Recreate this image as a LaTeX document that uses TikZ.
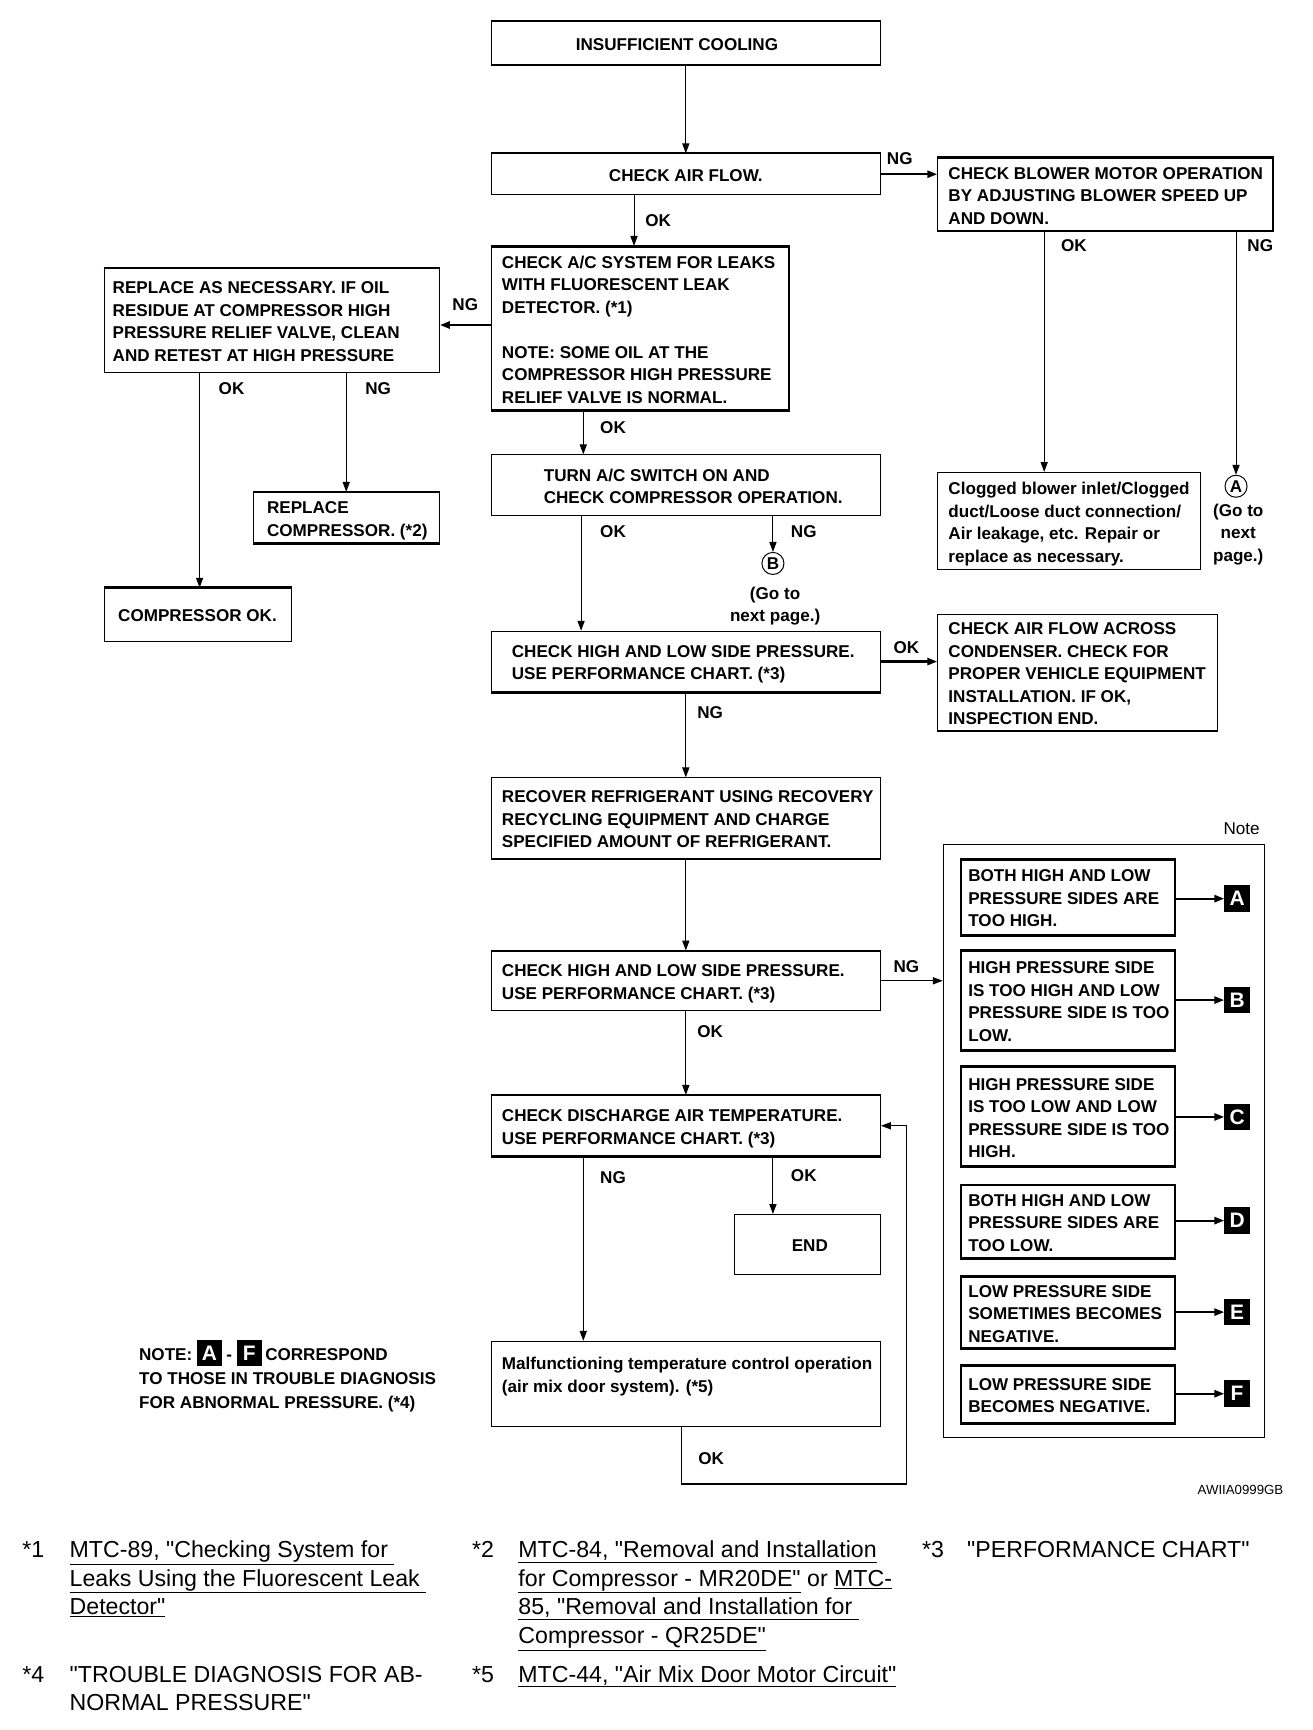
\documentclass[tikz,border=0pt]{standalone}
\usepackage{fontspec}
\setmainfont{Liberation Sans}[Ligatures=TeXOff]
\usetikzlibrary{arrows.meta,calc}
\newcommand\blk[1]{{\setlength{\fboxsep}{0pt}\colorbox{black}{\makebox[23pt]{\rule[-5pt]{0pt}{23pt}\textcolor{white}{\fontsize{19}{19}\bfseries #1}}}}}
\newcommand\mystrut{\rule[-4pt]{0pt}{15pt}}
\newcommand\tk[1]{\draw[line width=2.2pt] (#1.north west) -- (#1.north east);}
\newcommand\bk[1]{\draw[line width=2.2pt] (#1.south west) -- (#1.south east);}
\begin{document}
\begin{tikzpicture}[x=1pt,y=-1pt,
  box/.style={draw, line width=1pt, inner sep=0pt, anchor=north west},
  ibox/.style={box, line width=1.6pt},
  txt/.style={align=left, inner sep=0pt, anchor=west, yshift=-3pt, font=\fontsize{15.5}{20.4}\bfseries, execute at begin node=\mystrut, execute at end node=\mystrut},
  ctxt/.style={txt, align=center, anchor=center},
  lab/.style={inner sep=0pt, font=\fontsize{15.5}{18}\bfseries},
  fn/.style={inner sep=0pt, anchor=base west, font=\fontsize{21}{26}\selectfont},
  arr/.style={-{Triangle[length=9pt,width=6.5pt]}, line width=0.9pt},
  tarr/.style={arr, line width=2pt},
  key/.style={fill=black, text=white, inner sep=0pt, minimum width=23pt, minimum height=24pt, font=\fontsize{19}{19}\bfseries},
  circ/.style={circle, draw, line width=0.9pt, minimum size=20pt, inner sep=0pt, font=\fontsize{15.5}{18}\bfseries}
]
\useasboundingbox (0,0) rectangle (1190,1569);

% boxes
\node[box, minimum width=353pt, minimum height=39pt] (ins) at (445,19) {};
\node[box, minimum width=353pt, minimum height=37pt] (flow) at (445,139) {};
\node[box, minimum width=304pt, minimum height=66pt] (blow) at (850,143) {};
\node[box, line width=1.5pt, minimum width=270pt, minimum height=148pt] (acs) at (445,223) {};
\node[box, minimum width=304pt, minimum height=94pt] (rep) at (94,243) {};
\node[box, minimum width=353pt, minimum height=55pt] (turn) at (445,412) {};
\node[box, minimum width=169pt, minimum height=46pt] (rcomp) at (229,446) {};
\node[box, minimum width=170pt, minimum height=48pt] (cok) at (94,533) {};
\node[box, minimum width=238pt, minimum height=88pt] (clog) at (850,428) {};
\node[box, minimum width=353pt, minimum height=55pt] (high1) at (445,572) {};
\node[box, minimum width=254pt, minimum height=105pt] (across) at (850,557) {};
\node[box, minimum width=353pt, minimum height=73pt] (recov) at (445,705) {};
\node[box, minimum width=353pt, minimum height=54pt] (high2) at (445,862) {};
\node[box, minimum width=353pt, minimum height=55pt] (dis) at (445,993) {};
\node[box, minimum width=132pt, minimum height=54pt] (endb) at (666,1101) {};
\node[box, minimum width=353pt, minimum height=77pt] (mal) at (445,1216) {};
\node[box, line width=0.8pt, minimum width=291pt, minimum height=538pt] (note) at (855,765) {};
\node[ibox, minimum width=194pt, minimum height=68pt] (nA) at (871,779) {};
\node[ibox, minimum width=194pt, minimum height=89pt] (nB) at (871,862) {};
\node[ibox, minimum width=194pt, minimum height=90pt] (nC) at (871,967) {};
\node[ibox, minimum width=194pt, minimum height=66pt] (nD) at (871,1074) {};
\node[ibox, minimum width=194pt, minimum height=65pt] (nE) at (871,1157) {};
\node[ibox, minimum width=194pt, minimum height=52pt] (nF) at (871,1238) {};

% heavier horizontal edges
\foreach \b in {ins,flow,acs,rep,rcomp,cok,dis,blow,nA,nB,nC,nE,nF}{\tk{\b}}
\foreach \b in {ins,acs,rcomp,high1,recov,dis,across,nA,nB,nC,nD,nE,nF}{\bk{\b}}

% texts
\node[ctxt] (insT) at ([xshift=-8pt]ins.center) {INSUFFICIENT COOLING};
\node[ctxt] (flowT) at (flow.center) {CHECK AIR FLOW.};
\node[txt] (blowT) at ([xshift=10pt]blow.west) {CHECK BLOWER MOTOR OPERATION\\BY ADJUSTING BLOWER SPEED UP\\AND DOWN.};
\node[txt] (acsT) at ([xshift=10pt]acs.west) {CHECK A/C SYSTEM FOR LEAKS\\WITH FLUORESCENT LEAK\\DETECTOR. (*1)\\[20.4pt]NOTE: SOME OIL AT THE\\COMPRESSOR HIGH PRESSURE\\RELIEF VALVE IS NORMAL.};
\node[txt] (repT) at ([xshift=8pt]rep.west) {REPLACE AS NECESSARY. IF OIL\\RESIDUE AT COMPRESSOR HIGH\\PRESSURE RELIEF VALVE, CLEAN\\AND RETEST AT HIGH PRESSURE};
\node[txt] (turnT) at ([xshift=48pt]turn.west) {TURN A/C SWITCH ON AND\\CHECK COMPRESSOR OPERATION.};
\node[txt] (rcompT) at ([xshift=13pt]rcomp.west) {REPLACE\\COMPRESSOR. (*2)};
\node[txt] (cokT) at ([xshift=13pt]cok.west) {COMPRESSOR OK.};
\node[txt] (clogT) at ([xshift=10pt]clog.west) {Clogged blower inlet/Clogged\\duct/Loose duct connection/\\Air leakage, etc. Repair or\\replace as necessary.};
\node[txt] (high1T) at ([xshift=19pt]high1.west) {CHECK HIGH AND LOW SIDE PRESSURE.\\USE PERFORMANCE CHART. (*3)};
\node[txt] (acrossT) at ([xshift=10pt]across.west) {CHECK AIR FLOW ACROSS\\CONDENSER. CHECK FOR\\PROPER VEHICLE EQUIPMENT\\INSTALLATION. IF OK,\\INSPECTION END.};
\node[txt] (recovT) at ([xshift=10pt]recov.west) {RECOVER REFRIGERANT USING RECOVERY\\RECYCLING EQUIPMENT AND CHARGE\\SPECIFIED AMOUNT OF REFRIGERANT.};
\node[txt] (high2T) at ([xshift=10pt]high2.west) {CHECK HIGH AND LOW SIDE PRESSURE.\\USE PERFORMANCE CHART. (*3)};
\node[txt] (disT) at ([xshift=10pt]dis.west) {CHECK DISCHARGE AIR TEMPERATURE.\\USE PERFORMANCE CHART. (*3)};
\node[ctxt] (endT) at ([xshift=2pt]endb.center) {END};
\node[txt] (malT) at ([xshift=10pt,yshift=9pt]mal.west) {Malfunctioning temperature control operation\\(air mix door system). (*5)};
\node[txt] (nAT) at ([xshift=7pt]nA.west) {BOTH HIGH AND LOW\\PRESSURE SIDES ARE\\TOO HIGH.};
\node[txt] (nBT) at ([xshift=7pt]nB.west) {HIGH PRESSURE SIDE\\IS TOO HIGH AND LOW\\PRESSURE SIDE IS TOO\\LOW.};
\node[txt] (nCT) at ([xshift=7pt]nC.west) {HIGH PRESSURE SIDE\\IS TOO LOW AND LOW\\PRESSURE SIDE IS TOO\\HIGH.};
\node[txt] (nDT) at ([xshift=7pt]nD.west) {BOTH HIGH AND LOW\\PRESSURE SIDES ARE\\TOO LOW.};
\node[txt] (nET) at ([xshift=7pt]nE.west) {LOW PRESSURE SIDE\\SOMETIMES BECOMES\\NEGATIVE.};
\node[txt] (nFT) at ([xshift=7pt]nF.west) {LOW PRESSURE SIDE\\BECOMES NEGATIVE.};

% keys
\node[key] (kA) at (1122,815) {A};
\node[key] (kB) at (1122,907) {B};
\node[key] (kC) at (1122,1013) {C};
\node[key] (kD) at (1122,1107) {D};
\node[key] (kE) at (1122,1190) {E};
\node[key] (kF) at (1122,1264) {F};
\foreach \k in {A,B,C,D,E,F}{\draw[tarr] (k\k.west -| n\k.east) -- (k\k.west);}

% circles
\node[circ] (cA) at (1121,441) {A};
\node[circ] (cB) at (701,511) {B};
\node[ctxt] (gA) at (1123,482) {(Go to\\next\\page.)};
\node[ctxt] (gB) at (703,547) {(Go to\\next page.)};

% connectors
\draw[arr] (ins.south) -- (flow.north);
\draw[tarr] (flow.east) -- (flow.east -| blow.west);
\coordinate (f1) at ([xshift=130pt]flow.south west);
\draw[arr] (f1) -- (f1 |- acs.north);
\coordinate (a1) at ([yshift=3pt]acs.west);
\draw[tarr] (a1) -- (a1 -| rep.east);
\coordinate (a2) at ([xshift=84pt]acs.south west);
\draw[arr] (a2) -- (a2 |- turn.north);
\coordinate (r1) at ([xshift=87pt]rep.south west);
\draw[arr] (r1) -- (r1 |- cok.north);
\coordinate (r2) at ([xshift=220pt]rep.south west);
\draw[arr] (r2) -- (r2 |- rcomp.north);
\coordinate (b1) at ([xshift=97pt]blow.south west);
\draw[arr] (b1) -- (b1 |- clog.north);
\coordinate (b2) at ([xshift=271pt]blow.south west);
\draw[arr] (b2) -- (cA.north);
\coordinate (t1) at ([xshift=82pt]turn.south west);
\draw[arr] (t1) -- (t1 |- high1.north);
\coordinate (t2) at ([xshift=256pt]turn.south west);
\draw[arr] (t2) -- (cB.north);
\draw[tarr] (high1.east) -- (high1.east -| across.west);
\draw[arr] (high1.south) -- (recov.north);
\draw[arr] (recov.south) -- (high2.north);
\draw[arr] (high2.east) -- (high2.east -| note.west);
\draw[arr] (high2.south) -- (dis.north);
\coordinate (d1) at ([xshift=84pt]dis.south west);
\draw[arr] (d1) -- (d1 |- mal.north);
\coordinate (d2) at ([xshift=256pt]dis.south west);
\draw[arr] (d2) -- (d2 |- endb.north);
\coordinate (m1) at ([xshift=173pt]mal.south west);
\coordinate (lp) at (822,1346);
\draw[arr] (m1) |- (lp) |- (dis.east);
\draw[line width=2.2pt] (m1 |- lp) -- (lp);

% labels
\node[lab] (l1) at (816,144) {NG};
\node[lab] (l2) at (597,200) {OK};
\node[lab] (l3) at (422,276) {NG};
\node[lab] (l4) at (556,388) {OK};
\node[lab] (l5) at (210,352) {OK};
\node[lab] (l6) at (343,352) {NG};
\node[lab] (l7) at (974,223) {OK};
\node[lab] (l8) at (1143,223) {NG};
\node[lab] (l9) at (556,482) {OK};
\node[lab] (l10) at (729,482) {NG};
\node[lab] (l11) at (822,587) {OK};
\node[lab] (l12) at (644,646) {NG};
\node[lab] (l13) at (822,877) {NG};
\node[lab] (l14) at (644,936) {OK};
\node[lab] (l15) at (556,1068) {NG};
\node[lab] (l16) at (729,1066) {OK};
\node[lab] (l17) at (645,1323) {OK};
\node[lab, font=\fontsize{15.5}{18}\selectfont] (noteL) at (1126,752) {Note};
\node[inner sep=0pt, font=\fontsize{12}{14}\selectfont] (code) at (1125,1351) {AWIIA0999GB};

% NOTE text
\node[lab, anchor=base west] (nt1) at (126,1233.5) {NOTE:\hspace{4pt}\blk{A}\hspace{4pt}-\hspace{4pt}\blk{F}\hspace{3pt}CORRESPOND};
\node[lab, anchor=base west] (nt2) at (126,1255.5) {TO THOSE IN TROUBLE DIAGNOSIS};
\node[lab, anchor=base west] (nt3) at (126,1277.5) {FOR ABNORMAL PRESSURE. (*4)};

% footnotes
\node[fn] (s1) at (20,1412.5) {*1};
\node[fn] (f1a) at (63,1412.5) {\underline{MTC-89, "Checking System for\ }};
\node[fn] (f1b) at (63,1438.5) {\underline{Leaks Using the Fluorescent Leak\ }};
\node[fn] (f1c) at (63,1464.5) {\underline{Detector"}};
\node[fn] (s2) at (428,1412.5) {*2};
\node[fn] (f2a) at (470,1412.5) {\underline{MTC-84, "Removal and Installation}};
\node[fn] (f2b) at (470,1438.5) {\underline{for Compressor - MR20DE"} or \underline{MTC-}};
\node[fn] (f2c) at (470,1464.5) {\underline{85, "Removal and Installation for\ }};
\node[fn] (f2d) at (470,1490.5) {\underline{Compressor - QR25DE"}};
\node[fn] (s3) at (836,1412.5) {*3};
\node[fn] (f3a) at (877,1412.5) {"PERFORMANCE CHART"};
\node[fn] (s4) at (20,1525.5) {*4};
\node[fn] (f4a) at (63,1525.5) {"TROUBLE DIAGNOSIS FOR AB-};
\node[fn] (f4b) at (63,1551.5) {NORMAL PRESSURE"};
\node[fn] (s5) at (428,1525.5) {*5};
\node[fn] (f5a) at (470,1525.5) {\underline{MTC-44, "Air Mix Door Motor Circuit"}};
\end{tikzpicture}
\end{document}
